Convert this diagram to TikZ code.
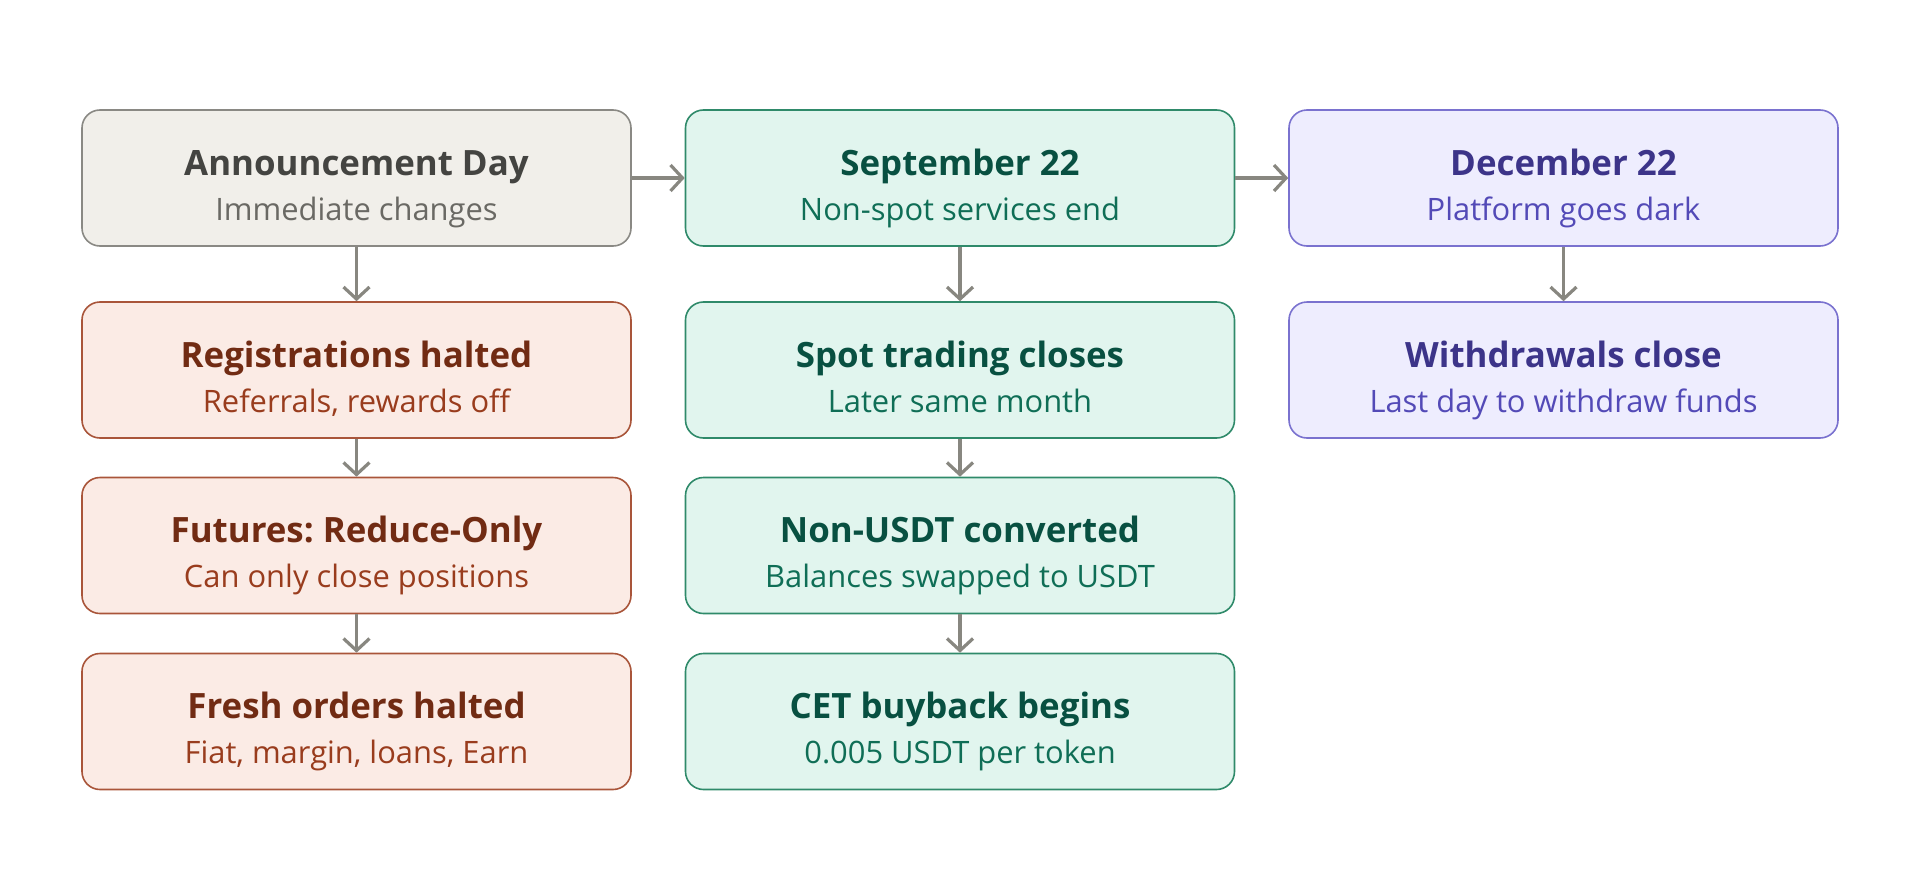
\documentclass[tikz,border=0pt]{standalone}
\usepackage{fontspec}
\setmainfont{Open Sans}
\usetikzlibrary{arrows.meta}
\frenchspacing
\definecolor{gFill}{HTML}{F1EFEA}
\definecolor{gLine}{HTML}{8A8984}
\definecolor{gTitle}{HTML}{444441}
\definecolor{gSub}{HTML}{6A6964}
\definecolor{rFill}{HTML}{FBEBE5}
\definecolor{rLine}{HTML}{A9553A}
\definecolor{rTitle}{HTML}{712B13}
\definecolor{rSub}{HTML}{993C1D}
\definecolor{tFill}{HTML}{E1F5EE}
\definecolor{tLine}{HTML}{2F8A6A}
\definecolor{tTitle}{HTML}{085041}
\definecolor{tSub}{HTML}{0F6E56}
\definecolor{pFill}{HTML}{EEEDFE}
\definecolor{pLine}{HTML}{7A72CF}
\definecolor{pTitle}{HTML}{3C3489}
\definecolor{pSub}{HTML}{534AB7}
\definecolor{arrowc}{HTML}{888780}
\newcommand{\stagebox}[6]{%
  \node[stage,fill=#4Fill,draw=#4Line] (#1) at (#2,#3) {};
  \node[ttl,text=#4Title] (#1t) at ([yshift=3bp]#1.center) {#5};
  \node[subt,text=#4Sub] (#1s) at ([yshift=-42bp]#1.center) {#6};
}
\begin{document}
\begin{tikzpicture}[x=1bp,y=-1bp,
  stage/.style={rounded corners=18bp, minimum width=549bp, minimum height=136bp, line width=1.6bp, inner sep=0pt},
  ttl/.style={anchor=base, inner sep=0pt, font=\fontsize{35}{40}\selectfont\bfseries},
  subt/.style={anchor=base, inner sep=0pt, font=\fontsize{31}{36}\selectfont},
  arr/.style={draw=arrowc, line width=3.2bp, -{Straight Barb[length=12bp,width=26bp,line width=3.2bp]}}]
\useasboundingbox (0,0) rectangle (1920,878);
\stagebox{a}{356.5}{178}{g}{Announcement Day}{Immediate changes}
\stagebox{b}{960}{178}{t}{September 22}{Non-spot services end}
\stagebox{c}{1563.5}{178}{p}{December 22}{Platform goes dark}
\stagebox{a2}{356.5}{370}{r}{Registrations halted}{Referrals, rewards off}
\stagebox{a3}{356.5}{545.5}{r}{Futures: Reduce-Only}{Can only close positions}
\stagebox{a4}{356.5}{721.5}{r}{Fresh orders halted}{Fiat, margin, loans, Earn}
\stagebox{b2}{960}{370}{t}{Spot trading closes}{Later same month}
\stagebox{b3}{960}{545.5}{t}{Non-USDT converted}{Balances swapped to USDT}
\stagebox{b4}{960}{721.5}{t}{CET buyback begins}{0.005 USDT per token}
\stagebox{c2}{1563.5}{370}{p}{Withdrawals close}{Last day to withdraw funds}
\draw[arr] (a.east) -- (b.west);
\draw[arr] (b.east) -- (c.west);
\draw[arr] (a.south) -- (a2.north);
\draw[arr] (a2.south) -- (a3.north);
\draw[arr] (a3.south) -- (a4.north);
\draw[arr] (b.south) -- (b2.north);
\draw[arr] (b2.south) -- (b3.north);
\draw[arr] (b3.south) -- (b4.north);
\draw[arr] (c.south) -- (c2.north);
\end{tikzpicture}
\end{document}
